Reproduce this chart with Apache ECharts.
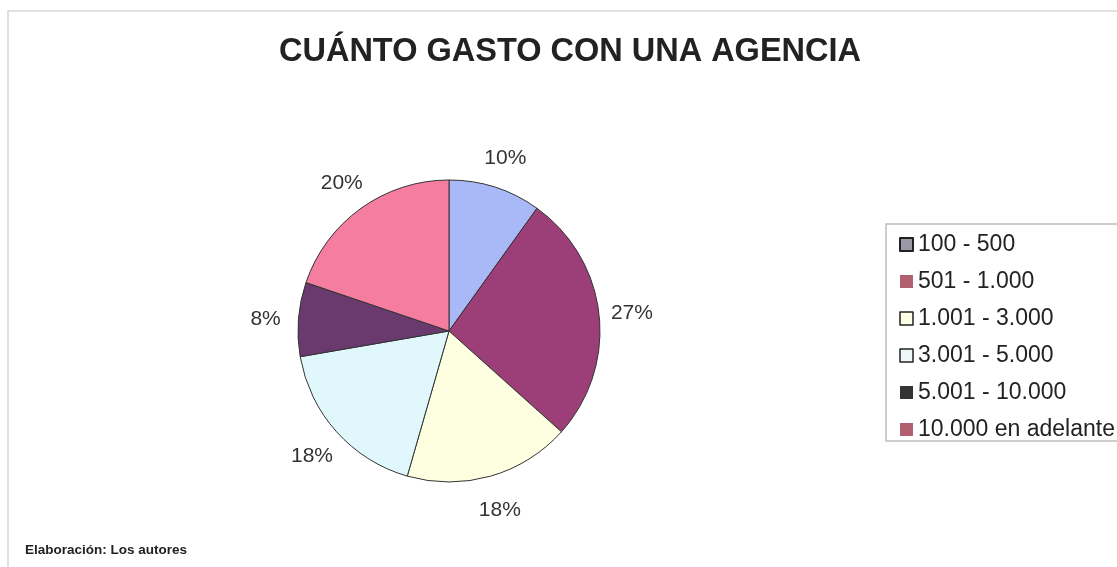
<!DOCTYPE html>
<html>
<head>
<meta charset="utf-8">
<style>
  html, body { margin: 0; padding: 0; background: #fff; }
  #chart { width: 1117px; height: 567px; }
</style>
<script src="https://cdn.jsdelivr.net/npm/echarts@6/dist/echarts.min.js"></script>
</head>
<body>
<div id="chart"></div>
<script>
// Spending brackets and share of respondents (%)
const categories = ['100 - 500', '501 - 1.000', '1.001 - 3.000', '3.001 - 5.000', '5.001 - 10.000', '10.000 en adelante'];
const shares = [10, 27, 18, 18, 8, 20];
const sliceColors = ['#a9b9f7', '#9c3e77', '#fefee0', '#e0f7fb', '#6a3a6e', '#f47da0'];
const legendSwatches = [
  { color: '#9a9aa6', borderColor: '#222', borderWidth: 2 },
  { color: '#b0606e', borderWidth: 0 },
  { color: '#fefee6', borderColor: '#222', borderWidth: 1.5 },
  { color: '#eef8f8', borderColor: '#222', borderWidth: 1.5 },
  { color: '#333333', borderWidth: 0 },
  { color: '#b0606e', borderWidth: 0 }
];

const font = '"Liberation Sans", Arial, sans-serif';
const chart = echarts.init(document.getElementById('chart'));

const sliceData = categories.map((name, i) => ({
  name, value: shares[i], itemStyle: { color: sliceColors[i] }
}));

chart.setOption({
  animation: false,
  title: {
    text: 'CUÁNTO GASTO CON UNA AGENCIA',
    left: 565, top: 31, textAlign: 'center',
    textStyle: { fontFamily: font, fontSize: 32.5, fontWeight: 'bold', color: '#222' }
  },
  graphic: [
    { type: 'rect', shape: { x: 8, y: 11, width: 1200, height: 700 },
      style: { fill: 'none', stroke: '#d8d8d8', lineWidth: 1.5 }, z: -1 },
    { type: 'rect', shape: { x: 886, y: 224, width: 300, height: 217 },
      style: { fill: '#fff', stroke: '#bdbdbd', lineWidth: 1.5 }, z: -1 },
    { type: 'text', left: 25, top: 543,
      style: { text: 'Elaboración: Los autores', fontFamily: font, fontSize: 13.5, fontWeight: 'bold', fill: '#222' } }
  ],
  legend: {
    orient: 'vertical', left: 894, top: 228,
    icon: 'rect', itemWidth: 13, itemHeight: 13, itemGap: 14,
    selectedMode: false,
    textStyle: { fontFamily: font, fontSize: 23, lineHeight: 23, color: '#222' },
    data: categories.map((name, i) => ({ name, itemStyle: legendSwatches[i] }))
  },
  series: [
    {
      type: 'pie',
      center: [449, 331], radius: 151,
      startAngle: 90, clockwise: true,
      label: { show: false }, labelLine: { show: false },
      itemStyle: { borderColor: '#333', borderWidth: 1 },
      emphasis: { disabled: true },
      data: sliceData
    },
    {
      // transparent ring that carries the percentage labels around the pie
      type: 'pie',
      center: [449, 333], radius: [151, 211],
      startAngle: 90, clockwise: true, silent: true,
      itemStyle: { color: 'rgba(0,0,0,0)' },
      label: {
        show: true, position: 'inside', formatter: '{c}%',
        fontFamily: font, fontSize: 21, color: '#333'
      },
      labelLine: { show: false },
      emphasis: { disabled: true },
      data: categories.map((name, i) => ({ name, value: shares[i] }))
    }
  ]
});
</script>
</body>
</html>
